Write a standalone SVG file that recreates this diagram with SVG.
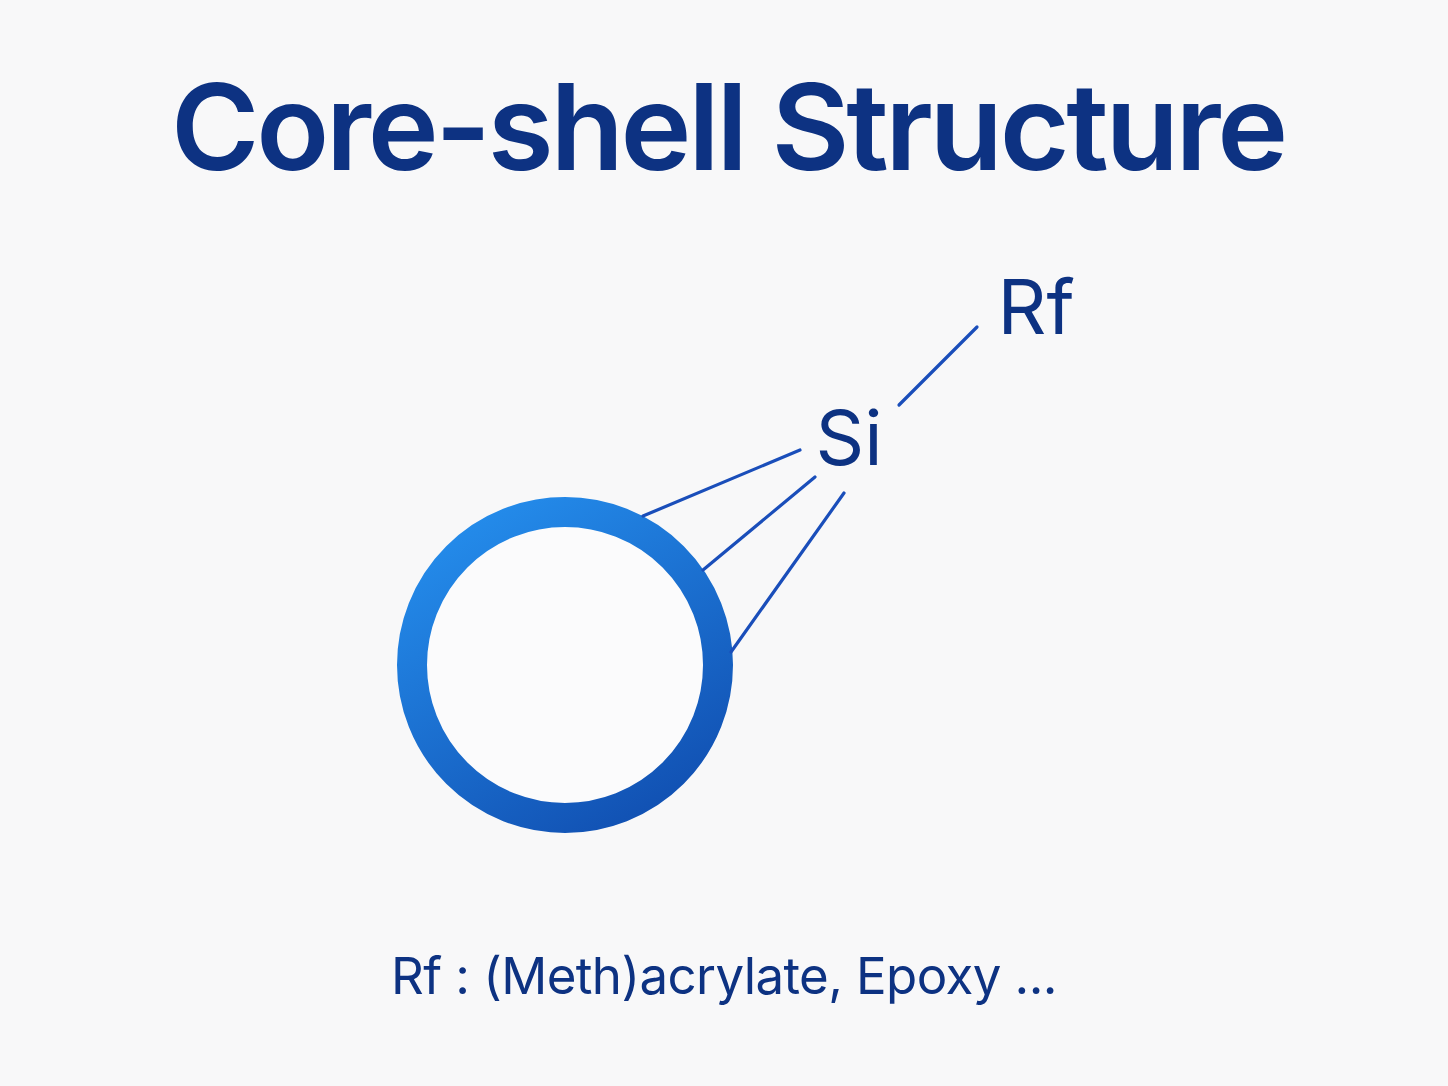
<svg xmlns="http://www.w3.org/2000/svg" width="1448" height="1086" viewBox="0 0 1448 1086">
<defs>
<linearGradient id="ring" x1="0.2" y1="0" x2="0.8" y2="1">
<stop offset="0" stop-color="#248ceb"/>
<stop offset="1" stop-color="#1150b2"/>
</linearGradient>
<style>
.t{font-family:Inter,"Liberation Sans",sans-serif;fill:#0d3282}
.ln{stroke:#1a4eba;stroke-width:3.2;stroke-linecap:round;fill:none}
</style>
</defs>
<rect width="1448" height="1086" fill="#f8f8f9"/>
<g id="title"><text class="t" x="728" y="170" text-anchor="middle" font-size="120" font-weight="600" letter-spacing="-3.3">Core-shell Structure</text></g>
<g id="core"><circle cx="565" cy="665" r="153" fill="#fbfbfc" stroke="url(#ring)" stroke-width="30"/></g>
<g id="si"><text class="t" x="849" y="465" text-anchor="middle" font-size="76">Si</text></g>
<g id="rf"><text class="t" x="1036" y="334" text-anchor="middle" font-size="76">Rf</text></g>
<g id="connectors">
<line class="ln" x1="643" y1="516" x2="800" y2="450"/>
<line class="ln" x1="703" y1="570" x2="815" y2="477"/>
<line class="ln" x1="731" y1="652" x2="844" y2="493"/>
<line class="ln" x1="899" y1="405" x2="977" y2="327"/>
</g>
<g id="legend"><text class="t" x="724" y="994" text-anchor="middle" font-size="51" letter-spacing="-0.6">Rf : (Meth)acrylate, Epoxy ...</text></g>
</svg>
